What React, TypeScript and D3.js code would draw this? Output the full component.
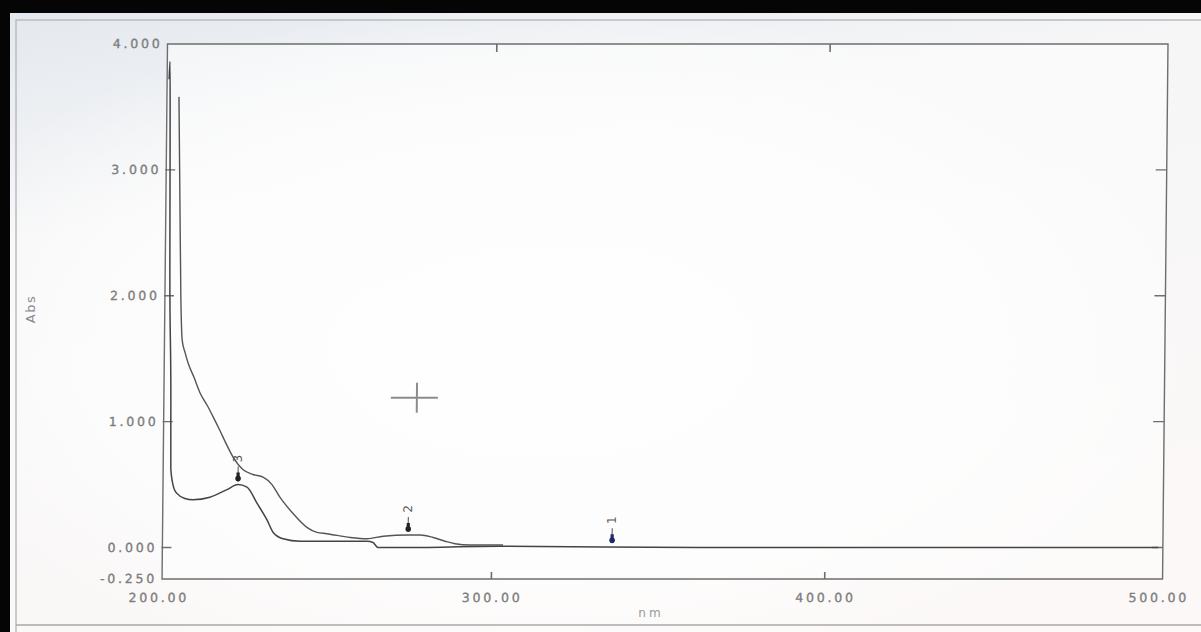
import React from "react";
import * as d3 from "d3";

// ---- data ----
const xTickValues = [200, 300, 400, 500];
const xTickLabels = ["200.00", "300.00", "400.00", "500.00"];
const yTickValues = [-0.25, 0, 1, 2, 3, 4];
const yTickLabels = ["-0.250", "0.000", "1.000", "2.000", "3.000", "4.000"];

// lower (sharp) spectrum
const seriesBNm = [201.8, 202.0, 202.3, 202.6, 203.3, 203.5, 204.5, 205.4, 207.8, 210.2, 215.3, 220.4, 223.7, 226.4, 229.5, 232.5, 234.4, 237.4, 242.5, 252.4, 262.6, 264.4, 265.9, 272.5, 302.5, 362.5, 452.5, 500.0];
const seriesBAbs = [3.72, 3.86, 3.16, 2.20, 1.17, 0.62, 0.47, 0.43, 0.39, 0.38, 0.40, 0.46, 0.50, 0.48, 0.35, 0.22, 0.12, 0.07, 0.05, 0.05, 0.05, 0.04, 0.00, 0.00, 0.01, 0.00, 0.00, 0.00];

// upper (broad) spectrum
const seriesANm = [204.8, 205.4, 206.0, 206.5, 207.4, 208.3, 210.2, 212.0, 214.2, 216.0, 218.1, 220.3, 222.1, 225.1, 228.2, 231.2, 233.9, 236.3, 240.3, 244.5, 247.5, 250.5, 257.5, 262.6, 267.4, 274.9, 278.5, 282.4, 286.0, 289.0, 293.5, 303.4];
const seriesAAbs = [3.58, 2.76, 1.97, 1.65, 1.55, 1.47, 1.35, 1.23, 1.13, 1.04, 0.93, 0.81, 0.72, 0.62, 0.58, 0.56, 0.50, 0.40, 0.27, 0.16, 0.12, 0.11, 0.08, 0.07, 0.09, 0.10, 0.10, 0.08, 0.05, 0.03, 0.02, 0.02];

// picked peaks
const peakLabels = ["1", "2", "3"];
const peakNm = [336.1, 274.9, 223.7];
const peakAbs = [0.01, 0.10, 0.50];
const peakColors = ["#1d2a66", "#222222", "#222222"];

// cursor cross position
const cursorNm = 277.1;
const cursorAbs = 1.19;

const W = 1201;
const H = 632;
const box = { left: 167.5, right: 1168, top: 44, bottom: 579 };
const SHEAR = 0.0102;

const x = d3.scaleLinear().domain([200, 500]).range([163.5, 1163.5]);
const y = d3.scaleLinear().domain([-0.25, 4]).range([box.bottom, box.top]);

function pathFor(nm: number[], ab: number[]) {
  const pts = nm.map((n, i) => [x(n), y(ab[i])] as [number, number]);
  return d3.line().curve(d3.curveMonotoneX)(pts) || "";
}

const tickFont = {
  fontFamily: "'DejaVu Sans', Verdana, sans-serif",
  fontSize: 12.5,
  letterSpacing: 2.8,
  fill: "#7e7e7e",
  stroke: "#7e7e7e",
  strokeWidth: 0.35,
};

export default function App() {
  const axisColor = "#6e6e6e";
  return (
    <svg
      width={W}
      height={H}
      viewBox={`0 0 ${W} ${H}`}
      style={{ position: "absolute", left: 0, top: 0, display: "block" }}
    >
      <defs>
        <linearGradient id="bgTop" x1="0" y1="0" x2="0.35" y2="1">
          <stop offset="0" stopColor="#e3e8ee" />
          <stop offset="0.35" stopColor="#f6f6f7" />
          <stop offset="1" stopColor="#fbf8f7" />
        </linearGradient>
        <radialGradient id="bgCenter" cx="0.45" cy="0.55" r="0.55">
          <stop offset="0" stopColor="#ffffff" stopOpacity="1" />
          <stop offset="0.7" stopColor="#ffffff" stopOpacity="0.6" />
          <stop offset="1" stopColor="#ffffff" stopOpacity="0" />
        </radialGradient>
      </defs>

      {/* background */}
      <rect x={0} y={0} width={W} height={H} fill="url(#bgTop)" />
      <rect x={0} y={0} width={W} height={H} fill="url(#bgCenter)" />
      {/* window frame */}
      <path d={`M16,${H} L16,20 L${W},20`} fill="none" stroke="#b9bcc0" strokeWidth={1.5} />
      <line x1={16} x2={W} y1={625} y2={625} stroke="#a9a9a9" strokeWidth={1.5} />
      <rect x={0} y={0} width={W} height={13} fill="#050505" />
      <rect x={0} y={0} width={10} height={H} fill="#050505" />

      {/* axis titles */}
      <text
        transform="translate(31,309) rotate(-90)"
        textAnchor="middle"
        dominantBaseline="middle"
        style={{ fontFamily: "'DejaVu Sans', sans-serif", fontSize: 13, letterSpacing: 1.5, fill: "#888" }}
      >
        Abs
      </text>
      <text
        x={651}
        y={613}
        textAnchor="middle"
        dominantBaseline="middle"
        style={{ fontFamily: "'DejaVu Sans', sans-serif", fontSize: 12, letterSpacing: 3, fill: "#999" }}
      >
        nm
      </text>

      <g transform={`matrix(1,0,${-SHEAR},1,${SHEAR * box.top},0)`}>
        {/* plot box */}
        <rect
          x={box.left}
          y={box.top}
          width={box.right - box.left}
          height={box.bottom - box.top}
          fill="#fdfdfd"
          fillOpacity={0.55}
          stroke={axisColor}
          strokeWidth={1.4}
        />

        {/* y ticks & labels */}
        {yTickValues.map((v, i) => (
          <g key={"y" + i}>
            {v > -0.25 && v < 4 && (
              <>
                <line x1={box.left - 1} x2={box.left + 9} y1={y(v)} y2={y(v)} stroke={axisColor} strokeWidth={1.4} />
                <line x1={box.right - 11} x2={box.right} y1={y(v)} y2={y(v)} stroke={axisColor} strokeWidth={1.4} />
              </>
            )}
            <text x={box.left - 5} y={y(v)} dy="0.36em" textAnchor="end" style={tickFont}>
              {yTickLabels[i]}
            </text>
          </g>
        ))}

        {/* x ticks & labels */}
        {xTickValues.map((v, i) => (
          <g key={"x" + i}>
            {v > 200 && v < 500 && (
              <>
                <line x1={x(v)} x2={x(v)} y1={box.bottom} y2={box.bottom - 7} stroke={axisColor} strokeWidth={1.6} />
                <line x1={x(v)} x2={x(v)} y1={box.top} y2={box.top + 8} stroke={axisColor} strokeWidth={1.6} />
              </>
            )}
            <text x={x(v) + 1} y={box.bottom + 19} dy="0.36em" textAnchor="middle" style={tickFont}>
              {xTickLabels[i]}
            </text>
          </g>
        ))}

        {/* spectra */}
        <path d={pathFor(seriesBNm, seriesBAbs)} fill="none" stroke="#444" strokeWidth={1.5} />
        <path d={pathFor(seriesANm, seriesAAbs)} fill="none" stroke="#555" strokeWidth={1.4} />

        {/* peak markers */}
        {peakLabels.map((lab, i) => {
          const px = x(peakNm[i]);
          const py = y(peakAbs[i]);
          return (
            <g key={"p" + lab}>
              <line x1={px} x2={px} y1={py - 18} y2={py - 3} stroke="#6a6a6a" strokeWidth={1.2} />
              <rect x={px - 1.6} y={py - 12} width={3.2} height={8} fill={peakColors[i]} />
              <circle cx={px} cy={py - 6} r={2.8} fill={peakColors[i]} />
              <text
                transform={`translate(${px},${py - 26}) rotate(-90)`}
                textAnchor="middle"
                dominantBaseline="middle"
                style={{ fontFamily: "'DejaVu Sans', sans-serif", fontSize: 12, fill: "#555" }}
              >
                {lab}
              </text>
            </g>
          );
        })}

        {/* cursor cross */}
        <g stroke="#8c8c8c" strokeWidth={2}>
          <line x1={x(cursorNm) - 26} x2={x(cursorNm) + 21} y1={y(cursorAbs)} y2={y(cursorAbs)} />
          <line x1={x(cursorNm)} x2={x(cursorNm)} y1={y(cursorAbs) - 15} y2={y(cursorAbs) + 15} />
        </g>
      </g>
    </svg>
  );
}
